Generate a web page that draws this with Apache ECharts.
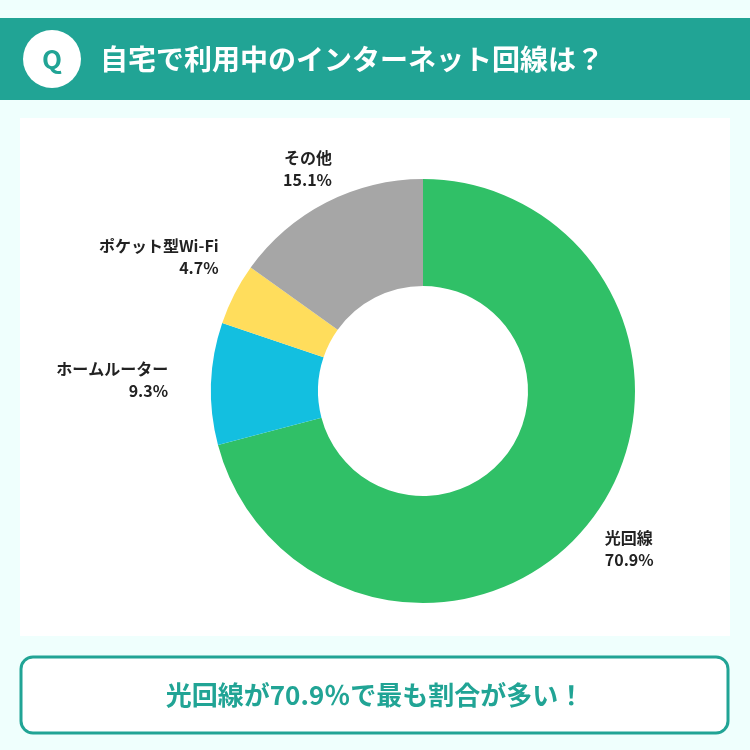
<!DOCTYPE html>
<html><head><meta charset="utf-8">
<script src="https://cdn.jsdelivr.net/npm/echarts@6/dist/echarts.min.js"></script>
<style>html,body{margin:0;padding:0;background:#effffd}#c{width:750px;height:750px}</style>
</head><body><div id="c"></div>
<script>
const categories = ['光回線','ホームルーター','ポケット型Wi-Fi','その他'];
const values = [70.9, 9.3, 4.7, 15.1];
const colors = ['#30c067','#13bfe0','#ffdd5c','#a6a6a6'];
const title = '自宅で利用中のインターネット回線は？';
const summary = '光回線が70.9％で最も割合が多い！';
const font = '"Noto Sans CJK JP", "Noto Sans", sans-serif';
const labelOffsets = [[-17,16],[-8,-3],[17,-28],[30,-16]];
const chart = echarts.init(document.getElementById('c'));
chart.setOption({
  backgroundColor: '#effffd',
  graphic: [
    {type:'rect', shape:{x:0,y:18,width:750,height:82}, style:{fill:'#21a495'}},
    {type:'circle', shape:{cx:52,cy:59,r:29}, style:{fill:'#ffffff'}},
    {type:'text', x:52, y:59, style:{text:'Q', fill:'#21a495', font:'bold 26px '+font, align:'center', verticalAlign:'middle'}},
    {type:'text', x:100, y:59, style:{text:title, fill:'#ffffff', font:'bold 28px '+font, verticalAlign:'middle'}},
    {type:'rect', shape:{x:20,y:118,width:710,height:518}, style:{fill:'#ffffff'}, z:-1},
    {type:'rect', shape:{x:21,y:657,width:707,height:76,r:12}, style:{fill:'#ffffff', stroke:'#21a495', lineWidth:3}},
    {type:'text', x:375, y:695, style:{text:summary, fill:'#21a495', font:'bold 26px '+font, align:'center', verticalAlign:'middle'}}
  ],
  series: [{
    type:'pie', center:[423,391], radius:[105,212], startAngle:90, clockwise:true,
    silent:true,
    data: categories.map((c,i)=>({name:c, value:values[i], itemStyle:{color:colors[i]}, label:{offset:labelOffsets[i]}})),
    label:{show:true, position:'outside', formatter:p=>p.name+'\n'+values[p.dataIndex].toFixed(1)+'%',
      color:'#222', fontWeight:'bold', fontSize:16, lineHeight:22, fontFamily:font, align:'center'},
    labelLine:{show:false, length:20, length2:10}
  }]
});
</script></body></html>
